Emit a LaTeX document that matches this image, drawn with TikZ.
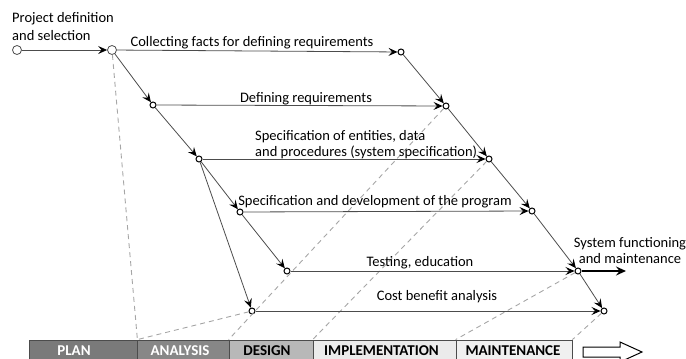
\documentclass[tikz,border=0pt]{standalone}
\usepackage{fontspec}
\setmainfont{Carlito}
\usepackage{tikz}
\usetikzlibrary{positioning,arrows.meta}

\begin{document}
\begin{tikzpicture}[x=1pt,y=1pt]
    \tikzset{vertex/.style = {shape=circle,draw=black,fill=white,line width=1pt,minimum size=6pt, inner sep = 0pt}}
    \tikzset{vertexbig/.style = {shape=circle,draw=black!70,fill=white,line width=0.8pt,minimum size=9pt, inner sep = 0pt}}
    \tikzset{flow/.style = {-{Stealth[length=9pt,width=8pt,inset=3.5pt,black]}, draw=black!70, line width=0.8pt}}
    \tikzset{flowdash/.style = {-, draw=black!35, line width=0.9pt, dash pattern=on 5pt off 4pt}}
    \tikzset{flowthick/.style = {-{Stealth[length=10pt,width=9pt,inset=3.5pt]}, draw=black, line width=1.8pt}}
    \tikzset{lbl/.style = {inner sep=0pt, font=\fontsize{14.5}{16}\selectfont}}
    \tikzset{phase/.style = {shape=rectangle,draw=black!70,line width=0.8pt,minimum height=24pt, inner sep = 0pt}}
    \tikzset{phasetext/.style = {anchor=base, inner sep=0pt, text depth=0pt, font=\bfseries\fontsize{15}{16}\selectfont}}

    \useasboundingbox (0,0) rectangle (686,-359);

    % phases
    \node[phase, fill=black!52, minimum width=108pt] (plan) at (83,-352) {};
    \node[phase, fill=black!47, minimum width=92pt] (analysis) at (183,-352) {};
    \node[phase, fill=black!28, minimum width=84pt] (design) at (271,-352) {};
    \node[phase, fill=black!8, minimum width=143pt] (impl) at (384.5,-352) {};
    \node[phase, fill=black!6, minimum width=116pt] (maint) at (514,-352) {};
    \node[phasetext, text=white] (tplan) at (74,-355.5) {PLAN};
    \node[phasetext, text=white] (tanalysis) at (180,-355.5) {ANALYSIS};
    \node[phasetext] (tdesign) at (267,-355.5) {DESIGN};
    \node[phasetext] (timpl) at (381.5,-355.5) {IMPLEMENTATION};
    \node[phasetext] (tmaint) at (513,-355.5) {MAINTENANCE};
    \draw[draw=black, line width=1pt, fill=white] (583,-347) -- (620,-347) -- (620,-342) -- (642,-352) -- (620,-362) -- (620,-357) -- (583,-357) -- cycle;

    % activity nodes
    \node[vertexbig] (S) at (17,-50) {};
    \node[vertexbig] (A) at (112,-50) {};
    \node[vertex] (B) at (401,-52) {};
    \node[vertex] (C) at (153,-105) {};
    \node[vertex] (D) at (446,-106) {};
    \node[vertex] (E) at (199,-159) {};
    \node[vertex] (F) at (489,-159) {};
    \node[vertex] (H) at (240,-212) {};
    \node[vertex] (G) at (532,-211) {};
    \node[vertex] (I) at (287,-271) {};
    \node[vertex] (K) at (578,-271) {};
    \node[vertex] (J) at (252,-311) {};
    \node[vertex] (L) at (604,-311) {};
    \coordinate (Kend) at (626,-271);

    % dashed phase borders
    \draw[flowdash] (A) -- (plan.north east);
    \draw[flowdash] (J) -- (plan.north east);
    \draw[flowdash] (D) -- (design.north west);
    \draw[flowdash] (F) -- (impl.north west);
    \draw[flowdash] (K) -- (maint.north west);
    \draw[flowdash] (L) -- (maint.north east);

    % activities
    \draw[flow] (S) -- (A);
    \draw[flow] (A) -- (B);
    \draw[flow] (A) -- (C);
    \draw[flow] (C) -- (D);
    \draw[flow] (C) -- (E);
    \draw[flow] (E) -- (F);
    \draw[flow] (E) -- (H);
    \draw[flow] (E) -- (J);
    \draw[flow] (H) -- (G);
    \draw[flow] (H) -- (I);
    \draw[flow] (I) -- (K);
    \draw[flow] (J) -- (L);
    \draw[flow] (B) -- (D);
    \draw[flow] (D) -- (F);
    \draw[flow] (F) -- (G);
    \draw[flow] (G) -- (K);
    \draw[flow] (K) -- (L);
    \draw[flowthick] (K) -- (Kend);

    % labels
    \node[lbl, align=left, anchor=west, font=\fontsize{14.5}{18}\selectfont] (lproj) at (12,-27) {Project definition\\and selection};
    \node[lbl] (lcollect) at (252,-43) {Collecting facts for defining requirements};
    \node[lbl] (ldefine) at (306,-99) {Defining requirements};
    \node[lbl, align=left, anchor=west] (lspec) at (255,-145) {Specification of entities, data\\and procedures (system specification)};
    \node[lbl] (lprog) at (375,-202) {Specification and development of the program};
    \node[lbl] (ltest) at (420,-263) {Testing, education};
    \node[lbl] (lcost) at (437,-297) {Cost benefit analysis};
    \node[lbl, align=center] (lsys) at (630,-251) {System functioning\\and maintenance};
\end{tikzpicture}
\end{document}
